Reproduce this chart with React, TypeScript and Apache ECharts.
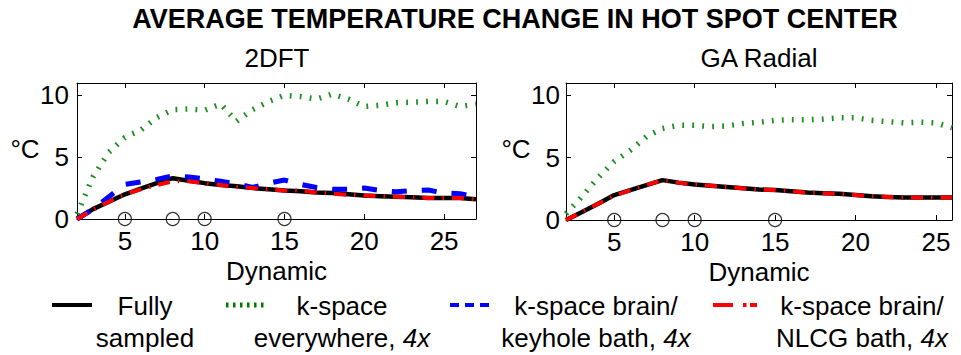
import React, { useEffect, useRef } from 'react';
import * as echarts from 'echarts';

// ---- data ----
const dynamics2DFT = [2, 3, 4, 5, 6, 7, 8, 9, 10, 11, 12, 13, 14, 15, 16, 17, 18, 19, 20, 21, 22, 23, 24, 25, 26, 27];
const fully2DFT = [0, 0.8, 1.4, 2.0, 2.45, 2.9, 3.3, 3.1, 2.9, 2.75, 2.65, 2.5, 2.4, 2.3, 2.25, 2.15, 2.1, 2.0, 1.9, 1.85, 1.8, 1.75, 1.7, 1.7, 1.7, 1.6];
const everywhere2DFT = [0.4, 3.4, 5.4, 6.6, 7.2, 8.2, 8.85, 8.9, 8.8, 9.3, 7.9, 8.85, 9.5, 10.0, 9.9, 9.7, 10.1, 9.7, 9.1, 9.2, 9.4, 9.45, 9.5, 9.5, 9.1, 9.3];
const keyhole2DFT = [0, 0.8, 1.8, 2.8, 3.0, 3.2, 3.5, 3.4, 3.25, 3.05, 2.85, 2.55, 2.9, 3.15, 2.8, 2.55, 2.4, 2.4, 2.5, 2.3, 2.2, 2.3, 2.35, 2.1, 2.05, 1.8];
const nlcg2DFT = [0, 0.75, 1.4, 2.0, 2.4, 2.75, 3.05, 3.05, 2.9, 2.75, 2.6, 2.5, 2.4, 2.3, 2.3, 2.15, 2.05, 1.95, 1.9, 1.85, 1.8, 1.75, 1.7, 1.7, 1.7, 1.6];

const dynamicsRadial = [2, 3, 4, 5, 6, 7, 8, 9, 10, 11, 12, 13, 14, 15, 16, 17, 18, 19, 20, 21, 22, 23, 24, 25, 26];
const fullyRadial = [0, 0.65, 1.3, 2.0, 2.4, 2.8, 3.2, 3.0, 2.85, 2.75, 2.65, 2.55, 2.45, 2.4, 2.3, 2.2, 2.15, 2.1, 2.0, 1.9, 1.85, 1.8, 1.8, 1.8, 1.8];
const everywhereRadial = [0.5, 1.9, 3.4, 4.7, 5.6, 6.7, 7.35, 7.6, 7.6, 7.5, 7.55, 7.75, 7.85, 8.0, 8.05, 8.05, 8.1, 8.2, 8.2, 8.0, 7.9, 7.8, 7.85, 7.8, 7.4];
const nlcgRadial = [0, 0.65, 1.3, 1.95, 2.4, 2.8, 3.2, 3.0, 2.85, 2.75, 2.65, 2.55, 2.45, 2.4, 2.3, 2.2, 2.15, 2.1, 2.0, 1.9, 1.85, 1.8, 1.8, 1.8, 1.8];

const markerDynamics = [5, 8, 10, 15];
const xTickValues = [5, 10, 15, 20, 25];
const yTickValues = [0, 5, 10];

const FONT = '"Liberation Sans", Arial, Helvetica, sans-serif';
const FS = 26;

const pairs = (xs: number[], ys: number[]) => xs.map((x, i) => [x, ys[i]]);

const STYLES = {
  fully: { color: '#000000', width: 4.5, type: 'solid' as any },
  everywhere: { color: '#1f8f1f', width: 5.5, type: [1.8, 8.2] as any },
  keyhole: { color: '#0000ff', width: 5, type: [15, 15] as any },
  nlcg: { color: '#ff0000', width: 4, type: [12, 8, 1.5, 8] as any },
};

function lineSeries(name: string, data: number[][], axis: number, st: any) {
  return {
    type: 'line',
    name,
    xAxisIndex: axis,
    yAxisIndex: axis,
    data,
    showSymbol: false,
    symbol: 'none',
    clip: false,
    silent: true,
    lineStyle: { color: st.color, width: st.width, type: st.type, cap: 'butt' },
  };
}

function xAxesFor(gridIndex: number, max: number) {
  const common = {
    type: 'value',
    gridIndex,
    min: 2,
    max,
    splitLine: { show: false },
    axisLine: { show: true, onZero: false, lineStyle: { color: '#000', width: 1 } },
    axisTick: { show: true, inside: true, length: 5, customValues: xTickValues, lineStyle: { color: '#000', width: 1 } },
  };
  return [
    {
      ...common,
      position: 'bottom',
      axisLabel: { show: true, customValues: xTickValues, fontSize: FS, lineHeight: 20, color: '#000', fontFamily: FONT, margin: 12 },
      name: 'Dynamic',
      nameLocation: 'middle',
      nameGap: 42,
      nameTextStyle: { fontSize: FS, lineHeight: 20, color: '#000', fontFamily: FONT },
    },
    { ...common, position: 'top', axisLabel: { show: false } },
  ];
}

function yAxesFor(gridIndex: number, margin: number) {
  const common = {
    type: 'value',
    gridIndex,
    min: 0,
    max: 11,
    splitLine: { show: false },
    axisLine: { show: true, onZero: false, lineStyle: { color: '#000', width: 1 } },
    axisTick: { show: true, inside: true, length: 5, customValues: yTickValues, lineStyle: { color: '#000', width: 1 } },
  };
  return [
    {
      ...common,
      position: 'left',
      axisLabel: { show: true, customValues: yTickValues, fontSize: FS, color: '#000', fontFamily: FONT, margin },
    },
    { ...common, position: 'right', axisLabel: { show: false } },
  ];
}

function markerSeries(axis: number) {
  return {
    type: 'scatter',
    xAxisIndex: axis,
    yAxisIndex: axis,
    data: markerDynamics.map((d) => [d, 0]),
    symbol: 'circle',
    symbolSize: 13,
    clip: false,
    silent: true,
    z: 10,
    itemStyle: { color: 'rgba(0,0,0,0)', borderColor: '#000', borderWidth: 1.2 },
  };
}

const textStyle = (text: string, extra: any = {}) => ({
  text,
  fill: '#000',
  fontSize: FS,
  fontFamily: FONT,
  align: 'center',
  verticalAlign: 'middle',
  ...extra,
});

const italicRich = {
  i: { fontStyle: 'italic', fontSize: FS, fontFamily: FONT, fill: '#000', lineHeight: 32 },
};

function legendLabel(x: number, text: string) {
  return {
    type: 'text',
    x,
    y: 322,
    silent: true,
    style: textStyle(text, { lineHeight: 32, rich: italicRich }),
  };
}

function legendSample(x1: number, x2: number, st: any, width: number, dash: any) {
  return {
    type: 'line',
    silent: true,
    shape: { x1, y1: 305, x2, y2: 305 },
    style: { stroke: st.color, lineWidth: width, lineDash: dash, lineCap: 'butt' },
  };
}

const option: any = {
  animation: false,
  backgroundColor: '#ffffff',
  grid: [
    { left: 77, top: 83, width: 399, height: 136, containLabel: false },
    { left: 566, top: 83, width: 386, height: 137, containLabel: false },
  ],
  xAxis: [...xAxesFor(0, 27), ...xAxesFor(1, 26)],
  yAxis: [...yAxesFor(0, 8), ...yAxesFor(1, 6)],
  series: [
    lineSeries('Fully sampled', pairs(dynamics2DFT, fully2DFT), 0, STYLES.fully),
    lineSeries('k-space everywhere, 4x', pairs(dynamics2DFT, everywhere2DFT), 0, STYLES.everywhere),
    lineSeries('k-space brain/keyhole bath, 4x', pairs(dynamics2DFT, keyhole2DFT), 0, STYLES.keyhole),
    lineSeries('k-space brain/NLCG bath, 4x', pairs(dynamics2DFT, nlcg2DFT), 0, STYLES.nlcg),
    markerSeries(0),
    lineSeries('Fully sampled', pairs(dynamicsRadial, fullyRadial), 2, STYLES.fully),
    lineSeries('k-space everywhere, 4x', pairs(dynamicsRadial, everywhereRadial), 2, STYLES.everywhere),
    lineSeries('k-space brain/NLCG bath, 4x', pairs(dynamicsRadial, nlcgRadial), 2, STYLES.nlcg),
    markerSeries(2),
  ],
  graphic: [
    {
      type: 'text',
      x: 515,
      y: 19,
      silent: true,
      style: textStyle('AVERAGE TEMPERATURE CHANGE IN HOT SPOT CENTER', { fontWeight: 'bold', fontSize: 27 }),
    },
    { type: 'text', x: 277, y: 58, silent: true, style: textStyle('2DFT') },
    { type: 'text', x: 759, y: 58, silent: true, style: textStyle('GA Radial') },
    { type: 'text', x: 25, y: 149, silent: true, style: textStyle('°C') },
    { type: 'text', x: 516, y: 149, silent: true, style: textStyle('°C') },
    legendSample(52, 92, STYLES.fully, 4, null),
    legendSample(226, 266, { color: '#007a00' }, 5, [2.5, 4.5]),
    legendSample(450, 489, STYLES.keyhole, 4, [9, 6]),
    legendSample(713, 757, STYLES.nlcg, 4, [20, 10, 3.5, 3.5]),
    legendLabel(145, 'Fully\nsampled'),
    legendLabel(342, 'k-space\neverywhere, {i|4x}'),
    legendLabel(596, 'k-space brain/\nkeyhole bath, {i|4x}'),
    legendLabel(862, 'k-space brain/\nNLCG bath, {i|4x}'),
  ],
};

export default function App() {
  const ref = useRef<HTMLDivElement>(null);
  useEffect(() => {
    const chart = echarts.init(ref.current!, null, { renderer: 'svg' });
    chart.setOption(option);
    return () => chart.dispose();
  }, []);
  return (
    <div
      ref={ref}
      style={{ position: 'fixed', left: 0, top: 0, width: 961, height: 355, background: '#fff' }}
    />
  );
}
